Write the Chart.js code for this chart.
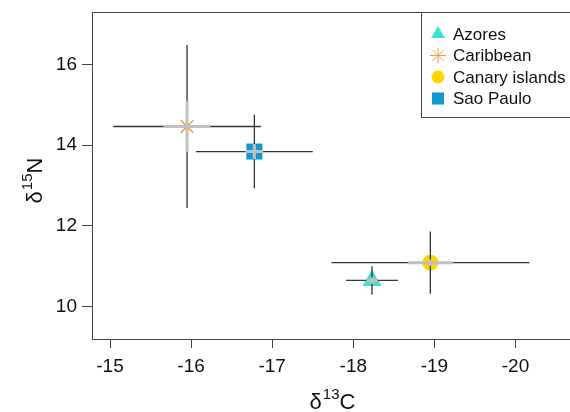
<!DOCTYPE html>
<html>
<head>
<meta charset="utf-8">
<script src="https://cdn.jsdelivr.net/npm/chart.js@4"></script>
<style>
  html, body { margin: 0; padding: 0; background: #fff; }
  #wrap { width: 570px; height: 412px; }
</style>
</head>
<body>
<div id="wrap"><canvas id="isoChart"></canvas></div>
<script>
// site means and spread (d13C on x, d15N on y)
var sites = ['Azores', 'Caribbean', 'Canary islands', 'Sao Paulo'];
var c13 = [-18.23, -15.95, -18.95, -16.78];
var n15 = [10.65, 14.46, 11.09, 13.84];
var c13Sd = [0.32, 0.91, 1.22, 0.72];
var n15Sd = [0.35, 2.02, 0.77, 0.91];
var c13Se = [0.07, 0.29, 0.28, 0.11];
var n15Se = [0.08, 0.63, 0.08, 0.19];
var xTicks = [-20, -19, -18, -17, -16, -15];
var yTicks = [10, 12, 14, 16];

var markerColors = ['#40E0D0', '#F99A48', '#FFD700', '#0E9AD0'];
var markerStyles = ['triangle', 'star', 'circle', 'rect'];
var markerSizes = [11, 9, 8, 11.3];
var legendSizes = [8, 8, 6.5, 8.5];

var axisColor = '#444';
var font = 'Liberation Sans, Arial, sans-serif';

var datasets = sites.map(function(name, i) {
    var isStar = markerStyles[i] === 'star';
    return {
        label: name,
        data: [{ x: c13[i], y: n15[i] }],
        pointStyle: markerStyles[i],
        pointRadius: markerSizes[i],
        pointHoverRadius: markerSizes[i],
        backgroundColor: markerColors[i],
        borderColor: markerColors[i],
        borderWidth: isStar ? 1.5 : 0
    };
});

// superscript text helper, e.g. δ 13 C
function drawIso(ctx, x, y, pre, sup, post) {
    ctx.font = '22px ' + font;
    var w1 = ctx.measureText(pre).width;
    var w3 = ctx.measureText(post).width;
    ctx.font = '15px ' + font;
    var w2 = ctx.measureText(sup).width;
    var start = x - (w1 + w2 + w3) / 2;
    ctx.textBaseline = 'alphabetic';
    ctx.textAlign = 'left';
    ctx.font = '22px ' + font;
    ctx.fillText(pre, start, y);
    ctx.font = '15px ' + font;
    ctx.fillText(sup, start + w1 + 1, y - 10);
    ctx.font = '22px ' + font;
    ctx.fillText(post, start + w1 + w2 + 1, y);
}

var extras = {
    id: 'extras',
    afterDatasetsDraw: function(chart) {
        var ctx = chart.ctx;
        var xs = chart.scales.x, ys = chart.scales.y;
        var area = chart.chartArea;
        ctx.save();
        // black spread bars
        ctx.strokeStyle = '#333';
        ctx.lineWidth = 1.3;
        sites.forEach(function(s, i) {
            var px = xs.getPixelForValue(c13[i]);
            var py = ys.getPixelForValue(n15[i]);
            ctx.beginPath();
            ctx.moveTo(xs.getPixelForValue(c13[i] - c13Sd[i]), py);
            ctx.lineTo(xs.getPixelForValue(c13[i] + c13Sd[i]), py);
            ctx.moveTo(px, ys.getPixelForValue(n15[i] - n15Sd[i]));
            ctx.lineTo(px, ys.getPixelForValue(n15[i] + n15Sd[i]));
            ctx.stroke();
        });
        // grey inner bars
        ctx.strokeStyle = '#C0C0C0';
        ctx.lineWidth = 3;
        sites.forEach(function(s, i) {
            var px = xs.getPixelForValue(c13[i]);
            var py = ys.getPixelForValue(n15[i]);
            ctx.beginPath();
            ctx.moveTo(xs.getPixelForValue(c13[i] - c13Se[i]), py);
            ctx.lineTo(xs.getPixelForValue(c13[i] + c13Se[i]), py);
            ctx.moveTo(px, ys.getPixelForValue(n15[i] - n15Se[i]));
            ctx.lineTo(px, ys.getPixelForValue(n15[i] + n15Se[i]));
            ctx.stroke();
        });

        // top edge of the plot box
        ctx.strokeStyle = axisColor;
        ctx.lineWidth = 1;
        ctx.beginPath();
        ctx.moveTo(area.left, area.top + 0.5);
        ctx.lineTo(chart.width, area.top + 0.5);
        ctx.stroke();

        // legend box
        var lx = 421.5, ly = area.top, lb = 117.5;
        ctx.fillStyle = '#fff';
        ctx.fillRect(lx, ly + 1, chart.width - lx, lb - ly - 1);
        ctx.beginPath();
        ctx.moveTo(chart.width, ly + 0.5);
        ctx.lineTo(lx, ly + 0.5);
        ctx.lineTo(lx, lb);
        ctx.lineTo(chart.width, lb);
        ctx.stroke();
        sites.forEach(function(s, i) {
            var cy = 34 + i * 21.5;
            ctx.fillStyle = markerColors[i];
            ctx.strokeStyle = markerColors[i];
            Chart.helpers.drawPoint(ctx, {
                pointStyle: markerStyles[i],
                radius: legendSizes[i],
                rotation: 0,
                borderWidth: markerStyles[i] === 'star' ? 1.3 : 0
            }, 438, cy);
            ctx.fillStyle = '#111';
            ctx.font = '17px ' + font;
            ctx.textAlign = 'left';
            ctx.textBaseline = 'middle';
            ctx.fillText(s, 453, cy + 1);
        });

        // axis titles
        ctx.fillStyle = '#111';
        drawIso(ctx, 332, 409, 'δ', '13', 'C');
        ctx.translate(42, 181);
        ctx.rotate(-Math.PI / 2);
        drawIso(ctx, 0, 0, 'δ', '15', 'N');
        ctx.restore();
    }
};

new Chart(document.getElementById('isoChart').getContext('2d'), {
    type: 'scatter',
    data: { datasets: datasets },
    options: {
        responsive: true,
        maintainAspectRatio: false,
        animation: false,
        layout: { autoPadding: false, padding: { top: 12, right: 0, left: 0, bottom: 0 } },
        plugins: {
            legend: { display: false },
            tooltip: { enabled: false }
        },
        scales: {
            x: {
                type: 'linear',
                reverse: true,
                min: -20.672,
                max: -14.778,
                afterBuildTicks: function(scale) {
                    scale.ticks = xTicks.map(function(v) { return { value: v }; });
                },
                afterFit: function(scale) {
                    scale.height = 73;
                    scale.paddingLeft = 0;
                    scale.paddingRight = 0;
                },
                grid: { display: true, drawOnChartArea: false, drawTicks: true, tickLength: 9, color: axisColor },
                border: { display: true, color: axisColor },
                ticks: { color: '#111', font: { family: font, size: 19 }, padding: 7 }
            },
            y: {
                type: 'linear',
                min: 9.2,
                max: 17.295,
                afterBuildTicks: function(scale) {
                    scale.ticks = yTicks.map(function(v) { return { value: v }; });
                },
                afterFit: function(scale) {
                    scale.width = 92;
                    scale.paddingTop = 0;
                    scale.paddingBottom = 0;
                },
                grid: { display: true, drawOnChartArea: false, drawTicks: true, tickLength: 10, color: axisColor },
                border: { display: true, color: axisColor },
                ticks: { color: '#111', font: { family: font, size: 19 }, padding: 5 }
            }
        }
    },
    plugins: [extras]
});
</script>
</body>
</html>
